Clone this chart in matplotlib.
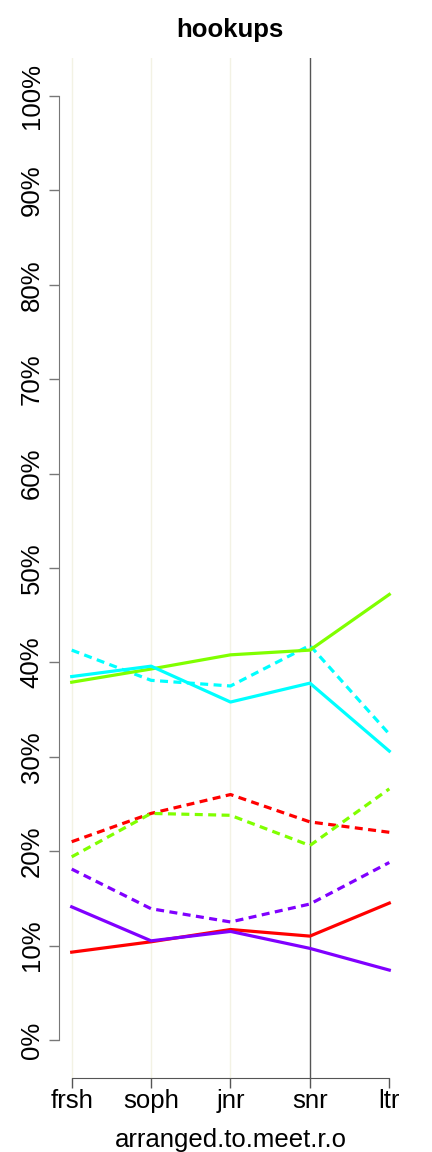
import matplotlib
matplotlib.use("Agg")
import matplotlib.pyplot as plt
from matplotlib.ticker import FixedLocator

plt.rcParams['font.family'] = ['Liberation Sans', 'DejaVu Sans']

categories = ["frsh", "soph", "jnr", "snr", "ltr"]
yticks = [0, 10, 20, 30, 40, 50, 60, 70, 80, 90, 100]
ytick_labels = [f"{v}%" for v in yticks]

# solid series
red_solid = [9.3, 10.4, 11.7, 11.0, 14.5]
green_solid = [37.9, 39.3, 40.8, 41.3, 47.2]
cyan_solid = [38.5, 39.6, 35.8, 37.8, 30.6]
purple_solid = [14.1, 10.5, 11.5, 9.7, 7.4]
# dashed series
red_dashed = [21.0, 24.0, 26.0, 23.1, 22.0]
green_dashed = [19.4, 24.0, 23.8, 20.6, 26.6]
cyan_dashed = [41.3, 38.1, 37.5, 41.8, 32.4]
purple_dashed = [18.1, 13.9, 12.5, 14.4, 18.8]

colors = {"red": "#FF0000", "green": "#80FF00", "cyan": "#00FFFF", "purple": "#8000FF"}

fig = plt.figure(figsize=(4.32, 11.52), dpi=100)
ax = fig.add_axes([59/432, 1 - 1077.7/1152, (402-59)/432, (1077.7-58.3)/1152])

x = list(range(1, len(categories) + 1))
ax.set_xlim(0.84, 5.16)
ax.set_ylim(-4, 104)

# vertical guide lines
for xi in x[:3]:
    ax.axvline(xi, color="#F3F2E4", lw=1.0, zorder=1)
ax.axvline(x[3], color="#555555", lw=1.0, zorder=1)

lw = 2.3
dash = (0, (2.5, 1.7))
series = [
    (red_dashed, "red", dash), (green_dashed, "green", dash),
    (cyan_dashed, "cyan", dash), (purple_dashed, "purple", dash),
    (red_solid, "red", "-"), (green_solid, "green", "-"),
    (cyan_solid, "cyan", "-"), (purple_solid, "purple", "-"),
]
for vals, c, ls in series:
    ax.plot(x, vals, color=colors[c], lw=lw, linestyle=ls, zorder=3)

for s in ["top", "right"]:
    ax.spines[s].set_visible(False)
ax.spines["left"].set_bounds(0, 100)
ax.spines["bottom"].set_bounds(1, 5)
ax.spines["left"].set_color("#777777")
ax.spines["bottom"].set_color("#555555")

ax.yaxis.set_major_locator(FixedLocator(yticks))
ax.set_yticklabels(ytick_labels, rotation=90, va="center", fontsize=18.5)
ax.set_xticks(x)
ax.set_xticklabels(categories, fontsize=18.5)
ax.tick_params(axis="y", length=7, width=1, color="#777777", pad=4)
ax.tick_params(axis="x", length=7, width=1, color="#555555", pad=1)

ax.set_xlabel("arranged.to.meet.r.o", fontsize=18.5, labelpad=11)
fig.text(230/432, 1 - 30/1152, "hookups", ha="center", va="center",
         fontsize=18.5, fontweight="bold")

fig.savefig("out.png", dpi=100)
